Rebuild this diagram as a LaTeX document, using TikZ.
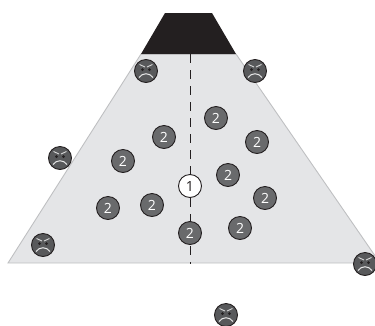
\documentclass[tikz,border=0pt]{standalone}
\usepackage{fontspec}
\setmainfont{Open Sans}
\usetikzlibrary{positioning}
\definecolor{Ink}{HTML}{231F20}
\definecolor{FieldGrey}{HTML}{E4E5E7}
\definecolor{EdgeGrey}{HTML}{BFC0C2}
\definecolor{BallGrey}{HTML}{696A6C}
\definecolor{FaceGrey}{HTML}{58595B}
\tikzset{
  ball/.style={
    circle,
    draw=Ink,
    line width=0.9pt,
    minimum size=23pt,
    inner sep=0pt,
    font=\fontsize{14}{14}\selectfont
  },
  ballone/.style={ball,fill=white,text=Ink},
  balltwo/.style={ball,fill=BallGrey,text=white},
  angry/.style={
    circle,
    draw=Ink,
    fill=FaceGrey,
    line width=0.9pt,
    minimum size=23pt,
    inner sep=0pt,
    path picture={
      \draw[white!85!black,line width=0.9pt] (-6.5pt,6.5pt) -- (-1pt,4pt);
      \draw[white!85!black,line width=0.9pt] (6.5pt,6.5pt) -- (1pt,4pt);
      \fill[Ink] (-3.5pt,1.5pt) circle (1.5pt);
      \fill[Ink] (3.5pt,1.5pt) circle (1.5pt);
      \draw[white!90!black,line width=1pt] (-7pt,-6.5pt) .. controls (-3.5pt,-1.5pt) and (3.5pt,-1.5pt) .. (7pt,-6.5pt);
    }
  }
}
\begin{document}
\begin{tikzpicture}[x=1pt,y=-1pt]
  \useasboundingbox (0,0) rectangle (375,325);
  % field and mask
  \filldraw[fill=FieldGrey,draw=EdgeGrey,line width=0.9pt]
    (141,54) -- (236,54) -- (380,263) -- (8,263) -- cycle;
  \fill[Ink] (165,13) -- (212,13) -- (236,54) -- (141,54) -- cycle;
  % centre line
  \coordinate (linetop) at (190,54);
  \coordinate (linebottom) at (190,264);
  \draw[Ink,line width=1pt,dash pattern=on 9pt off 7pt] (linetop) -- (linebottom);
  % numbered balls
  \node[ballone] (one) at (190,186) {1};
  \foreach \name/\x/\y in {a/216/118,b/164/137,c/257/142,d/123/161,e/228/175,f/265/198,g/108/208,h/152/205,i/190/233,j/240/228}
    \node[balltwo] (two\name) at (\x,\y) {2};
  % faces
  \foreach \name/\x/\y in {a/146/71,b/255/71,c/60/158,d/43/245,e/365/264,f/226/315}
    \node[angry] (face\name) at (\x,\y) {};
\end{tikzpicture}
\end{document}
